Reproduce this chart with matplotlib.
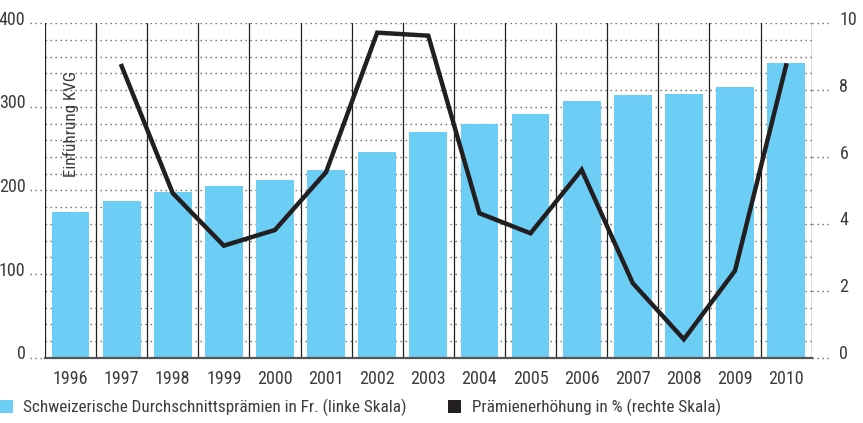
import numpy as np
import matplotlib
matplotlib.use("Agg")
import matplotlib.pyplot as plt
from matplotlib.patches import Rectangle
from matplotlib.transforms import ScaledTranslation, blended_transform_factory

plt.rcParams['font.family'] = ['Roboto Condensed', 'Archivo Narrow', 'DejaVu Sans']

years = [str(y) for y in range(1996, 2011)]
praemien = [174, 188, 198, 205, 212, 224, 246, 270, 280, 291, 307, 314, 316, 324, 352]
erhoehung_years = years[1:]
erhoehung = [8.72, 4.92, 3.35, 3.82, 5.55, 9.72, 9.63, 4.32, 3.72, 5.62, 2.23, 0.55, 2.6, 8.74]

left_ticks = [0, 100, 200, 300, 400]
right_ticks = [0, 2, 4, 6, 8, 10]

bar_col = "#6ccdf5"
line_col = "#231f20"
txt_col = "#3c3c3c"
fs = 13
fs_leg = 12.3

fig = plt.figure(figsize=(8.63, 4.23), dpi=100)
ax = fig.add_axes([0.0521, 0.1544, 0.8884, 0.7905])
x = np.arange(len(years))

# grid (dotted, every 20)
ax.set_axisbelow(True)
for v in np.arange(0, 401, 20):
    ax.axhline(v, color="#666666", lw=1.0, ls=(0, (1, 2.6)), zorder=0)

ax.bar(x, praemien, width=0.74, color=bar_col, zorder=2)
for b in np.arange(-0.5, len(years), 1.0):
    ax.axvline(b, color="#222222", lw=0.9, zorder=3)

ax.set_xlim(-0.5, len(years) - 0.5)
ax.set_ylim(0, 400)
ax.set_xticks(x)
ax.set_xticklabels(years, fontsize=fs, color=txt_col)
ax.set_yticks(left_ticks)
ax.set_yticklabels([str(t) for t in left_ticks], fontsize=fs, color=txt_col)
ax.tick_params(axis="x", length=0, pad=9)
ax.tick_params(axis="y", length=0, pad=14)
for lab in ax.get_yticklabels():
    lab.set_transform(lab.get_transform() + ScaledTranslation(0, 4 / 72, fig.dpi_scale_trans))

for s in ["top", "left", "right"]:
    ax.spines[s].set_visible(False)
ax.spines["bottom"].set_color("#555555")
ax.spines["bottom"].set_linewidth(1.6)
ax.spines["bottom"].set_zorder(4)

# dotted tick extensions on left
trl = blended_transform_factory(ax.transAxes, ax.transData)
for t in left_ticks:
    ax.plot([-0.02, 0], [t, t], transform=trl, color="#666666", lw=1.0,
            ls=(0, (1, 2.6)), clip_on=False)

ax.text(0.0, 216, "Einführung KVG", rotation=90, ha="center", va="bottom",
        fontsize=fs_leg, color=txt_col, zorder=5)

ax2 = ax.twinx()
ax2.set_ylim(0, 10)
ax2.plot(np.arange(1, len(years)), erhoehung, color=line_col, lw=3.2,
         solid_joinstyle="miter", zorder=5)
ax2.set_yticks(right_ticks)
ax2.set_yticklabels([str(t) for t in right_ticks], fontsize=fs, color=txt_col)
ax2.tick_params(axis="y", length=0, pad=20)
for lab in ax2.get_yticklabels():
    lab.set_transform(lab.get_transform() + ScaledTranslation(0, 4 / 72, fig.dpi_scale_trans))
for s in ["top", "left", "right", "bottom"]:
    ax2.spines[s].set_visible(False)
trr = blended_transform_factory(ax2.transAxes, ax2.transData)
for t in right_ticks:
    ax2.plot([1.0, 1.025], [t, t], transform=trr, color="#666666", lw=1.0,
             ls=(0, (1, 2.6)), clip_on=False)

# legend
W, H = 863, 423
fig.add_artist(Rectangle((0 / W, (H - 413) / H), 13 / W, 13 / H, transform=fig.transFigure,
                         color=bar_col, lw=0))
fig.text(22.5 / W, (H - 407) / H, "Schweizerische Durchschnittsprämien in Fr. (linke Skala)",
         fontsize=fs_leg, color=txt_col, va="center", ha="left")
fig.add_artist(Rectangle((448 / W, (H - 413) / H), 13 / W, 13 / H, transform=fig.transFigure,
                         color=line_col, lw=0))
fig.text(471.5 / W, (H - 407) / H, "Prämienerhöhung in % (rechte Skala)",
         fontsize=fs_leg, color=txt_col, va="center", ha="left")

fig.savefig("out.png", dpi=100)
